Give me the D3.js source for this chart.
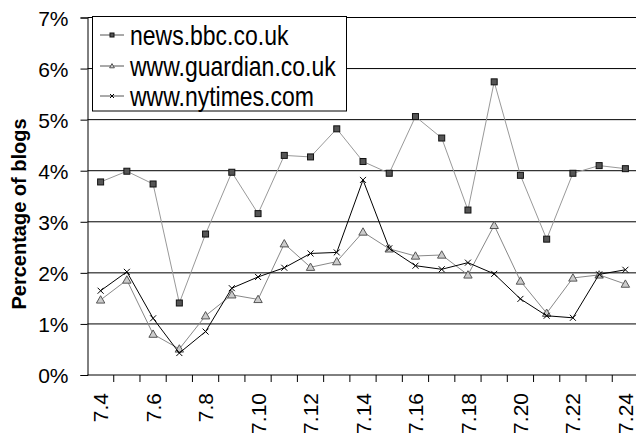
<!doctype html>
<html lang="en">
<head>
    <meta charset="utf-8"/>
    <title>Percentage of blogs</title>
    <script src="https://d3js.org/d3.v7.min.js"></script>
    <style>
        body { margin: 0; background: #fff; }
        text { font-family: "Liberation Sans", Arial, sans-serif; fill: #000; }
    </style>
</head>
<body>

<svg id="chart"></svg>

<script>
    // values (percent)
    let categories = ["7.4", "7.5", "7.6", "7.7", "7.8", "7.9", "7.10", "7.11", "7.12", "7.13", "7.14",
        "7.15", "7.16", "7.17", "7.18", "7.19", "7.20", "7.21", "7.22", "7.23", "7.24"];
    let bbc = [3.78, 3.99, 3.74, 1.41, 2.76, 3.97, 3.16, 4.30, 4.27, 4.82, 4.18,
        3.95, 5.06, 4.64, 3.23, 5.74, 3.91, 2.66, 3.95, 4.10, 4.04];
    let guardian = [1.47, 1.86, 0.80, 0.51, 1.16, 1.57, 1.48, 2.57, 2.11, 2.22, 2.80,
        2.47, 2.33, 2.35, 1.96, 2.93, 1.84, 1.21, 1.90, 1.96, 1.78];
    let nytimes = [1.65, 2.02, 1.11, 0.43, 0.85, 1.70, 1.92, 2.10, 2.38, 2.40, 3.82,
        2.48, 2.14, 2.07, 2.20, 1.98, 1.49, 1.16, 1.12, 1.97, 2.06];
    let yTicks = [0, 1, 2, 3, 4, 5, 6, 7];
    let seriesNames = ["news.bbc.co.uk", "www.guardian.co.uk", "www.nytimes.com"];

    let width = 636,
        height = 435;

    let plotLeft = 87.5, plotRight = 638.5, plotTop = 17.5, plotBottom = 375;

    let svg = d3.select("#chart")
        .attr("width", width)
        .attr("height", height);

    let x = d3.scaleBand()
        .domain(categories)
        .range([plotLeft, plotRight]);

    let y = d3.scaleLinear()
        .domain([0, 7])
        .range([plotBottom, plotTop]);

    let cx = d => x(d) + x.bandwidth() / 2;

    // gridlines
    svg.append("g")
        .selectAll("line")
        .data(yTicks.slice(1))
        .enter()
        .append("line")
        .attr("x1", plotLeft)
        .attr("x2", width)
        .attr("y1", d => y(d))
        .attr("y2", d => y(d))
        .attr("stroke", "#000")
        .attr("stroke-width", 1);

    // y axis
    let yAxis = svg.append("g")
        .attr("transform", "translate(" + plotLeft + ",0)")
        .call(d3.axisLeft(y).tickValues(yTicks).tickFormat(d => d + "%").tickSize(7).tickPadding(12));
    yAxis.select(".domain").attr("stroke", "#000");
    yAxis.selectAll("text")
        .style("font-size", "21px")
        .attr("dy", "0.36em");

    // x axis, ticks on band edges
    let xg = svg.append("g");
    xg.append("line")
        .attr("x1", plotLeft).attr("x2", width)
        .attr("y1", plotBottom).attr("y2", plotBottom)
        .attr("stroke", "#000");
    xg.selectAll(".tick")
        .data(categories)
        .enter()
        .append("line")
        .attr("x1", d => x(d) + x.bandwidth())
        .attr("x2", d => x(d) + x.bandwidth())
        .attr("y1", plotBottom)
        .attr("y2", plotBottom + 7)
        .attr("stroke", "#000");
    xg.selectAll("text")
        .data(categories.filter((d, i) => i % 2 === 0))
        .enter()
        .append("text")
        .attr("transform", d => "translate(" + cx(d) + "," + (plotBottom + 18) + ") rotate(-90)")
        .attr("text-anchor", "end")
        .attr("dy", "0.36em")
        .style("font-size", "21px")
        .text(d => d);

    // y title
    svg.append("text")
        .attr("transform", "translate(26,214) rotate(-90)")
        .attr("text-anchor", "middle")
        .style("font-size", "20px")
        .style("font-weight", "bold")
        .text("Percentage of blogs");

    let line = d3.line()
        .x((d, i) => cx(categories[i]))
        .y(d => y(d));

    function square(g, px, py, s) {
        g.append("rect")
            .attr("x", px - s / 2).attr("y", py - s / 2)
            .attr("width", s).attr("height", s)
            .attr("fill", "#555").attr("stroke", "#111").attr("stroke-width", 1);
    }

    function triangle(g, px, py, s) {
        g.append("path")
            .attr("d", "M" + px + "," + (py - s * 0.6) + "L" + (px + s * 0.6) + "," + (py + s * 0.45) +
                "L" + (px - s * 0.6) + "," + (py + s * 0.45) + "Z")
            .attr("fill", "#ccc").attr("stroke", "#555").attr("stroke-width", 1);
    }

    function cross(g, px, py, s) {
        g.append("path")
            .attr("d", "M" + (px - s / 2) + "," + (py - s / 2) + "L" + (px + s / 2) + "," + (py + s / 2) +
                "M" + (px + s / 2) + "," + (py - s / 2) + "L" + (px - s / 2) + "," + (py + s / 2))
            .attr("stroke", "#000").attr("stroke-width", 1).attr("fill", "none");
    }

    let series = [
        {values: bbc, color: "#999", marker: square, size: 6},
        {values: guardian, color: "#888", marker: triangle, size: 7},
        {values: nytimes, color: "#000", marker: cross, size: 6}
    ];

    series.forEach(s => {
        let g = svg.append("g");
        g.append("path")
            .datum(s.values)
            .attr("d", line)
            .attr("fill", "none")
            .attr("stroke", s.color)
            .attr("stroke-width", 1);
        s.values.forEach((v, i) => s.marker(g, cx(categories[i]), y(v), s.size));
    });

    // legend
    let legend = svg.append("g");
    legend.append("rect")
        .attr("x", 92.5).attr("y", 16.5)
        .attr("width", 254).attr("height", 94.5)
        .attr("fill", "#fff").attr("stroke", "#000");

    let rowY = [35, 66, 96];
    series.forEach((s, i) => {
        legend.append("line")
            .attr("x1", 100).attr("x2", 124)
            .attr("y1", rowY[i]).attr("y2", rowY[i])
            .attr("stroke", "#555");
        s.marker(legend, 112, rowY[i], 4);
        // legend type in the picture is a little taller than it is wide
        legend.append("text")
            .attr("transform", "translate(130," + rowY[i] + ") scale(1,1.18)")
            .attr("dy", "0.36em")
            .style("font-size", "23px")
            .text(seriesNames[i]);
    });
</script>

</body>
</html>
